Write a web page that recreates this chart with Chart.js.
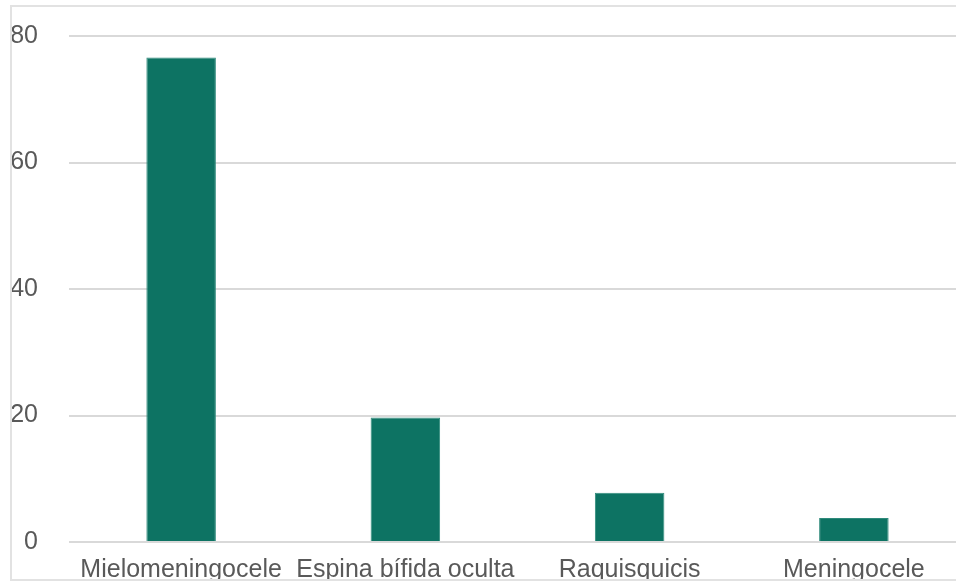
<!DOCTYPE html>
<html>
<head>
<meta charset="utf-8">
<script src="https://cdn.jsdelivr.net/npm/chart.js@4"></script>
<style>
  html, body { margin:0; padding:0; background:#fff; overflow:hidden; }
  #wrap { position:absolute; left:0; top:0; width:966px; height:594px; }
  #frame {
    position:absolute; left:10px; top:5px; width:980px; height:572px;
    border-top:2px solid #e2e2e2; border-left:2px solid #e2e2e2; border-bottom:2px solid #e2e2e2;
    pointer-events:none;
  }
</style>
</head>
<body>
<div id="wrap"><canvas id="chart-tipos" width="966" height="594"></canvas></div>
<div id="frame"></div>
<script>
// ── données ──
const CATEGORIES = ['Mielomeningocele', 'Espina bífida oculta', 'Raquisquicis', 'Meningocele'];
const VALEURS = [76.6, 19.7, 7.8, 3.8];
const Y_TICKS = [0, 20, 40, 60, 80];

const VERT = '#0d7363';
const FONT = { family:"'Liberation Sans', Arial, Helvetica, sans-serif", size:25 };

new Chart(document.getElementById('chart-tipos'), {
  type: 'bar',
  data: {
    labels: CATEGORIES,
    datasets: [{
      data: VALEURS,
      backgroundColor: VERT,
      borderColor: '#2f8a7b',
      borderWidth: 1,
      barPercentage: 0.31,
      categoryPercentage: 1
    }]
  },
  options: {
    responsive: false,
    animation: false,
    devicePixelRatio: 1,
    layout: { padding: { left:11, top:36, right:0, bottom:0 } },
    plugins: { legend:{ display:false }, tooltip:{ enabled:false } },
    scales: {
      x: {
        grid: { display:false },
        border: { display:false },
        ticks: { color:'#595959', font:FONT, padding:5, maxRotation:0, autoSkip:false },
        // hauteur fixe, et les libellés larges ne décalent pas la zone de tracé
        afterFit: s => { s.height = 52; s.paddingLeft = 0; s.paddingRight = 0; }
      },
      y: {
        min: 0, max: 80,
        afterBuildTicks: axis => { axis.ticks = Y_TICKS.map(v => ({ value:v })); },
        grid: { color:'#d9d9d9', lineWidth:2, drawTicks:false },
        border: { display:false },
        ticks: { color:'#595959', font:FONT, padding:31 },
        afterFit: s => { s.width = 58; s.paddingTop = 0; s.paddingBottom = 0; }
      }
    }
  }
});
</script>
</body>
</html>
